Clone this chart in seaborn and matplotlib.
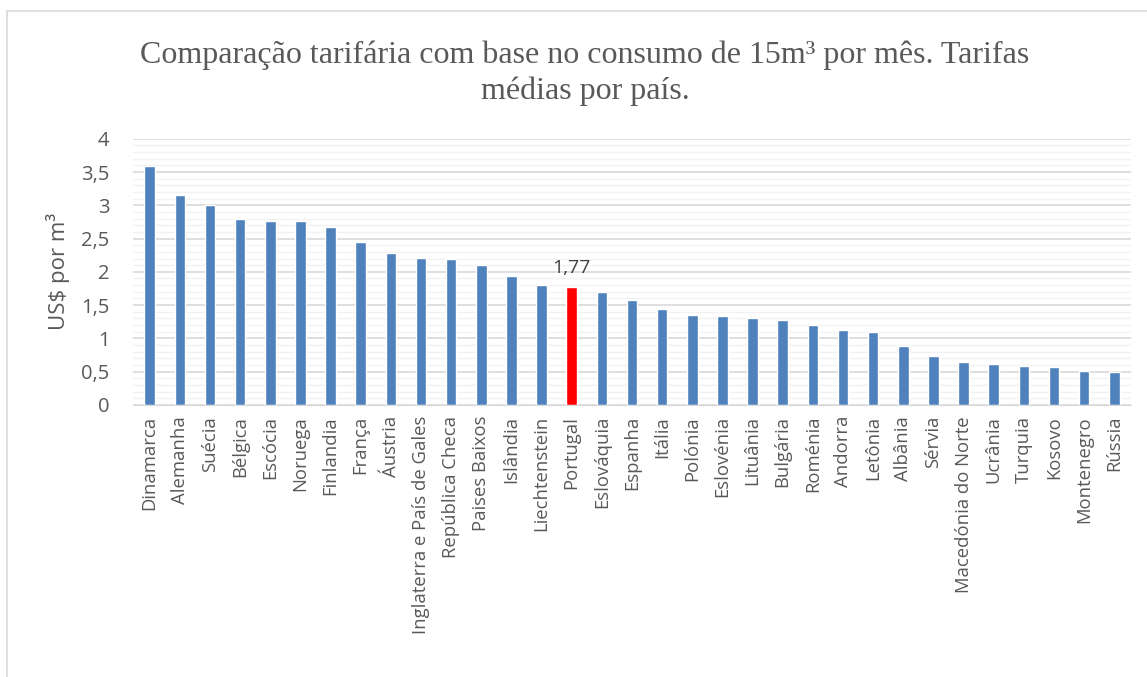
import matplotlib
matplotlib.use("Agg")
import matplotlib.pyplot as plt
import seaborn as sns
import pandas as pd
from matplotlib.ticker import MultipleLocator, FuncFormatter
from matplotlib.patches import Rectangle

paises = ['Dinamarca', 'Alemanha', 'Suécia', 'Bélgica', 'Escócia', 'Noruega', 'Finlandia',
          'França', 'Áustria', 'Inglaterra e País de Gales', 'República Checa', 'Paises Baixos',
          'Islândia', 'Liechtenstein', 'Portugal', 'Eslováquia', 'Espanha', 'Itália', 'Polónia',
          'Eslovénia', 'Lituânia', 'Bulgária', 'Roménia', 'Andorra', 'Letônia', 'Albânia',
          'Sérvia', 'Macedónia do Norte', 'Ucrânia', 'Turquia', 'Kosovo', 'Montenegro', 'Rússia']
tarifas = [3.59, 3.15, 3.01, 2.80, 2.77, 2.76, 2.68, 2.45, 2.29, 2.21, 2.19, 2.10,
           1.93, 1.80, 1.77, 1.70, 1.57, 1.44, 1.35, 1.33, 1.31, 1.28, 1.20, 1.12,
           1.09, 0.89, 0.73, 0.64, 0.61, 0.59, 0.57, 0.51, 0.49]
destaque = 'Portugal'

df = pd.DataFrame({'País': paises, 'Tarifa': tarifas})
cores = ['#FF0000' if p == destaque else '#4F81BD' for p in paises]

sns.set_style('white')
plt.rcParams['font.family'] = ['Open Sans', 'DejaVu Sans']

fig = plt.figure(figsize=(11.47, 6.77), dpi=100)
ax = fig.add_axes([0.116, 0.402, 0.870, 0.393])

sns.barplot(data=df, x='País', y='Tarifa', hue='País', palette=cores, legend=False,
            width=0.35, saturation=1, ax=ax)

ax.set_ylim(0, 4)
ax.set_xlim(-0.55, len(paises) - 0.45)
ax.yaxis.set_major_locator(MultipleLocator(0.5))
ax.yaxis.set_minor_locator(MultipleLocator(0.1))
ax.yaxis.set_major_formatter(FuncFormatter(lambda v, p: ('%g' % v).replace('.', ',')))
ax.grid(which='major', axis='y', color='#D9D9D9', lw=1.2)
ax.grid(which='minor', axis='y', color='#F2F2F2', lw=1.0)
ax.set_axisbelow(True)
for s in ['top', 'right', 'left']:
    ax.spines[s].set_visible(False)
ax.spines['bottom'].set_color('#D9D9D9')
ax.tick_params(axis='both', which='both', length=0, colors='#595959')
ax.tick_params(axis='x', rotation=90, pad=8, labelsize=13.3)
ax.tick_params(axis='y', pad=17, labelsize=14.5)
ax.set_xlabel('')
ax.set_ylabel('US$ por m³', color='#595959', fontsize=16, labelpad=8)

i = paises.index(destaque)
ax.text(i, tarifas[i] + 0.15, ('%.2f' % tarifas[i]).replace('.', ','), ha='center',
        va='bottom', color='#404040', fontsize=14)

fig.text(0.51, 0.892, 'Comparação tarifária com base no consumo de 15m³ por mês. Tarifas\nmédias por país.',
         ha='center', va='center', family='Liberation Serif', fontsize=23, color='#595959',
         linespacing=1.3)

fig.patches.append(Rectangle((0.006, -0.01), 1.0, 0.994, transform=fig.transFigure,
                             fill=False, edgecolor='#D9D9D9', lw=1.2))

fig.savefig('out.png', dpi=100)
